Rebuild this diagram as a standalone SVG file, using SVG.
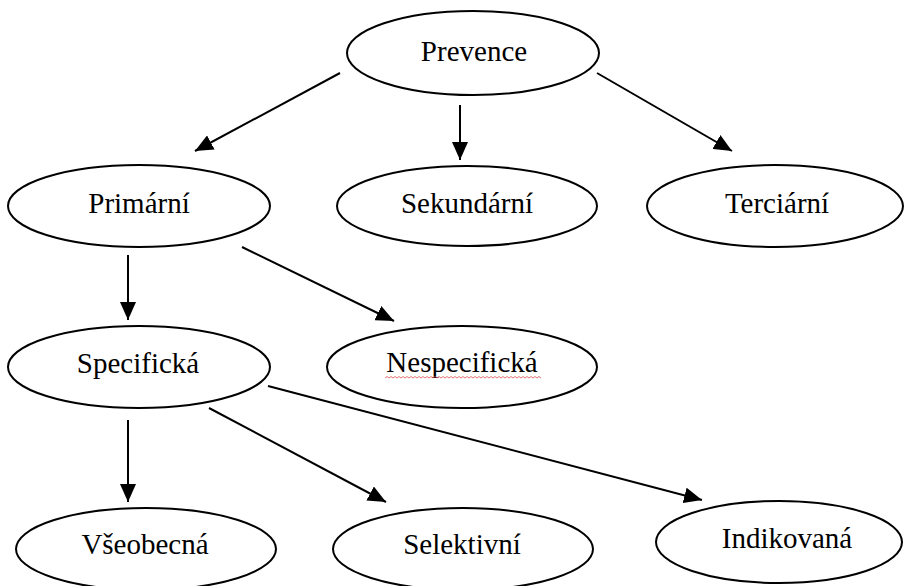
<svg xmlns="http://www.w3.org/2000/svg" width="905" height="586" viewBox="0 0 905 586">
<style>
.n ellipse{fill:#fff;stroke:#000;stroke-width:2}
.n text{font-family:"Liberation Serif","Times New Roman",serif;font-size:29px;fill:#000;text-anchor:middle}
.c line{stroke:#000;stroke-width:2;marker-end:url(#ah)}
</style>
<defs>
<marker id="ah" markerUnits="userSpaceOnUse" markerWidth="18" markerHeight="16" viewBox="0 0 18 16" refX="18" refY="8" orient="auto">
<path d="M0,0 L18,8 L0,16 Z" fill="#000"/>
</marker>
</defs>
<rect width="905" height="586" fill="#fff"/>
<g class="c" id="connectors">
<line x1="340" y1="73" x2="195" y2="151"/>
<line x1="460" y1="105" x2="460" y2="160"/>
<line x1="597" y1="73" x2="732" y2="151"/>
<line x1="128" y1="255" x2="128" y2="320"/>
<line x1="242" y1="247" x2="394" y2="321"/>
<line x1="128" y1="420" x2="128" y2="502"/>
<line x1="209" y1="408" x2="386" y2="502"/>
<line x1="268" y1="386" x2="702" y2="500"/>
</g>
<g class="n" id="prevence"><ellipse cx="473" cy="53" rx="126" ry="42"/><text x="474" y="61">Prevence</text></g>
<g class="n" id="primarni"><ellipse cx="139" cy="206" rx="131" ry="41"/><text x="139" y="213">Primární</text></g>
<g class="n" id="sekundarni"><ellipse cx="467" cy="206" rx="130" ry="40"/><text x="467" y="213">Sekundární</text></g>
<g class="n" id="terciarni"><ellipse cx="775" cy="206" rx="128" ry="41"/><text x="777" y="213">Terciární</text></g>
<g class="n" id="specificka"><ellipse cx="139" cy="367" rx="131" ry="41"/><text x="138" y="373">Specifická</text></g>
<g class="n" id="nespecificka"><ellipse cx="462" cy="367" rx="135" ry="41"/><text x="462" y="372">Nespecifická</text>
<path d="M385,378 l2,-1.5 l2,1.5 l2,-1.5 l2,1.5 l2,-1.5 l2,1.5 l2,-1.5 l2,1.5 l2,-1.5 l2,1.5 l2,-1.5 l2,1.5 l2,-1.5 l2,1.5 l2,-1.5 l2,1.5 l2,-1.5 l2,1.5 l2,-1.5 l2,1.5 l2,-1.5 l2,1.5 l2,-1.5 l2,1.5 l2,-1.5 l2,1.5 l2,-1.5 l2,1.5 l2,-1.5 l2,1.5 l2,-1.5 l2,1.5 l2,-1.5 l2,1.5 l2,-1.5 l2,1.5 l2,-1.5 l2,1.5 l2,-1.5 l2,1.5 l2,-1.5 l2,1.5 l2,-1.5 l2,1.5 l2,-1.5 l2,1.5 l2,-1.5 l2,1.5 l2,-1.5 l2,1.5 l2,-1.5 l2,1.5 l2,-1.5 l2,1.5 l2,-1.5 l2,1.5 l2,-1.5 l2,1.5 l2,-1.5 l2,1.5 l2,-1.5 l2,1.5 l2,-1.5 l2,1.5 l2,-1.5 l2,1.5 l2,-1.5 l2,1.5 l2,-1.5 l2,1.5 l2,-1.5 l2,1.5 l2,-1.5 l2,1.5 l2,-1.5 l2,1.5 l2,-1.5 l2,1.5" fill="none" stroke="#e05050" stroke-width="0.8"/></g>
<g class="n" id="vseobecna"><ellipse cx="146" cy="549" rx="130" ry="41"/><text x="145" y="554">Všeobecná</text></g>
<g class="n" id="selektivni"><ellipse cx="463" cy="549" rx="130" ry="41"/><text x="462" y="554">Selektivní</text></g>
<g class="n" id="indikovana"><ellipse cx="779" cy="542" rx="123" ry="41"/><text x="787" y="548">Indikovaná</text></g>
</svg>
